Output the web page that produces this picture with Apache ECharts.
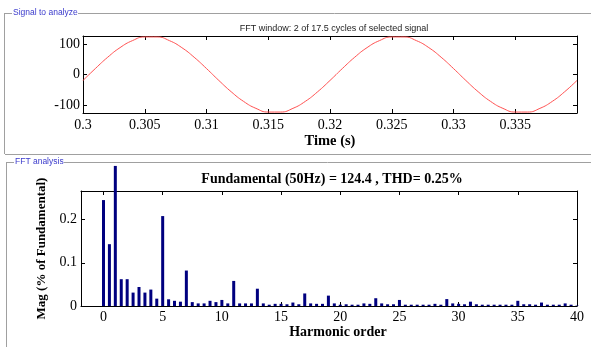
<!DOCTYPE html>
<html>
<head>
<meta charset="utf-8">
<script src="https://cdn.jsdelivr.net/npm/echarts@6/dist/echarts.min.js"></script>
<style>
  html, body { margin: 0; padding: 0; background: #fff; }
  #fft-scope { width: 591px; height: 347px; }
</style>
</head>
<body>
<div id="fft-scope"></div>
<script>
// signal window (time in s, amplitude)
const timeSamples = [
    0.300, 0.301, 0.302, 0.303, 0.304, 0.305, 0.306, 0.307, 0.308, 0.309,
    0.310, 0.311, 0.312, 0.313, 0.314, 0.315, 0.316, 0.317, 0.318, 0.319,
    0.320, 0.321, 0.322, 0.323, 0.324, 0.325, 0.326, 0.327, 0.328, 0.329,
    0.330, 0.331, 0.332, 0.333, 0.334, 0.335, 0.336, 0.337, 0.338, 0.339, 0.340,
];
const signalValues = [
    -19.5, 19.5, 56.5, 88.0, 110.8, 122.9, 122.9, 110.8, 88.0, 56.5,
    19.5, -19.5, -56.5, -88.0, -110.8, -122.9, -122.9, -110.8, -88.0, -56.5,
    -19.5, 19.5, 56.5, 88.0, 110.8, 122.9, 122.9, 110.8, 88.0, 56.5,
    19.5, -19.5, -56.5, -88.0, -110.8, -122.9, -122.9, -110.8, -88.0, -56.5, -19.5,
];

// spectrum (harmonic order, % of fundamental)
const harmonicOrders = [
    0, 0.5, 1, 1.5, 2, 2.5, 3, 3.5, 4, 4.5, 5, 5.5, 6, 6.5, 7, 7.5, 8, 8.5, 9, 9.5,
    10, 10.5, 11, 11.5, 12, 12.5, 13, 13.5, 14, 14.5, 15, 15.5, 16, 16.5, 17, 17.5, 18, 18.5, 19, 19.5,
    20, 20.5, 21, 21.5, 22, 22.5, 23, 23.5, 24, 24.5, 25, 25.5, 26, 26.5, 27, 27.5, 28, 28.5, 29, 29.5,
    30, 30.5, 31, 31.5, 32, 32.5, 33, 33.5, 34, 34.5, 35, 35.5, 36, 36.5, 37, 37.5, 38, 38.5, 39, 39.5, 40,
];
const harmonicMags = [
    0.245, 0.143, 0.324, 0.062, 0.062, 0.031, 0.044, 0.031, 0.038, 0.017,
    0.208, 0.0155, 0.012, 0.010, 0.082, 0.009, 0.006, 0.006, 0.012, 0.009,
    0.014, 0.006, 0.058, 0.006, 0.006, 0.006, 0.040, 0.006, 0.003, 0.005,
    0.005, 0.004, 0.008, 0.004, 0.029, 0.006, 0.005, 0.005, 0.024, 0.006,
    0.003, 0.004, 0.003, 0.003, 0.006, 0.005, 0.018, 0.006, 0.004, 0.004,
    0.014, 0.003, 0.003, 0.003, 0.003, 0.003, 0.005, 0.003, 0.016, 0.006,
    0.005, 0.004, 0.010, 0.004, 0.003, 0.003, 0.003, 0.003, 0.003, 0.003,
    0.012, 0.004, 0.004, 0.003, 0.008, 0.003, 0.003, 0.003, 0.006, 0.003, 0.001,
];

const signalTitle = 'FFT window: 2 of 17.5 cycles of selected signal';
const fftTitle = 'Fundamental (50Hz) = 124.4 , THD= 0.25%';

const serif = 'Liberation Serif';
const tickFont = { fontFamily: serif, fontSize: 14, color: '#000' };
const boxLine = { show: true, onZero: false, lineStyle: { color: '#000', width: 1 } };
const inTick = { show: true, inside: true, length: 4, lineStyle: { color: '#000' } };

// etched group-box frame pieces
const etch = (x1, y1, x2, y2) => [
    { type: 'line', shape: { x1: x1, y1: y1, x2: x2, y2: y2 }, style: { stroke: '#a0a0a0', lineWidth: 1 } },
    { type: 'line', shape: { x1: x1 + 1, y1: y1 + 1, x2: x2 + 1, y2: y2 + 1 }, style: { stroke: '#ffffff', lineWidth: 1 } },
];

const chart = echarts.init(document.getElementById('fft-scope'), null, { renderer: 'canvas' });
chart.setOption({
    animation: false,
    backgroundColor: '#fff',
    title: [
        {
            text: signalTitle,
            left: 329, top: 19, textAlign: 'center',
            textStyle: { fontFamily: 'Liberation Sans', fontSize: 9, fontWeight: 'normal', color: '#222' },
        },
        {
            text: fftTitle,
            left: 327, top: 167, textAlign: 'center',
            textStyle: { fontFamily: serif, fontSize: 14, fontWeight: 'bold', color: '#000' },
        },
    ],
    graphic: [
        ...etch(5, 13.5, 12, 13.5),
        ...etch(78, 13.5, 591, 13.5),
        ...etch(4.5, 13, 4.5, 154),
        ...etch(5, 154.5, 591, 154.5),
        ...etch(7, 162.5, 14, 162.5),
        ...etch(64, 162.5, 591, 162.5),
        ...etch(6.5, 162, 6.5, 347),
        {
            type: 'text', left: 13, top: 8,
            style: { text: 'Signal to analyze', fill: '#3a3acc', font: '8.5px "Liberation Sans"' },
        },
        {
            type: 'text', left: 15, top: 157,
            style: { text: 'FFT analysis', fill: '#3a3acc', font: '8.5px "Liberation Sans"' },
        },
    ],
    grid: [
        { left: 83, top: 36, width: 494, height: 77, containLabel: false },
        { left: 81, top: 191, width: 496, height: 115, containLabel: false },
    ],
    xAxis: [
        {
            gridIndex: 0, type: 'value', min: 0.3, max: 0.34, interval: 0.005,
            name: 'Time (s)', nameLocation: 'middle', nameGap: 21,
            nameTextStyle: { fontFamily: serif, fontSize: 14.5, fontWeight: 'bold', color: '#000' },
            axisLine: boxLine, axisTick: inTick, splitLine: { show: false },
            axisLabel: { ...tickFont, margin: 5, showMaxLabel: false },
        },
        {
            gridIndex: 0, type: 'value', position: 'top', min: 0.3, max: 0.34, interval: 0.005,
            axisLine: boxLine, axisTick: inTick, splitLine: { show: false }, axisLabel: { show: false },
        },
        {
            gridIndex: 1, type: 'value', min: -1.9, max: 40, splitNumber: 8,
            name: 'Harmonic order', nameLocation: 'middle', nameGap: 19,
            nameTextStyle: { fontFamily: serif, fontSize: 14, fontWeight: 'bold', color: '#000', padding: [0, 0, 0, 18] },
            axisLine: boxLine, axisTick: inTick, splitLine: { show: false },
            axisLabel: { ...tickFont, margin: 4, showMinLabel: false },
        },
        {
            gridIndex: 1, type: 'value', position: 'top', min: -1.9, max: 40, splitNumber: 8,
            axisLine: boxLine, axisTick: inTick, splitLine: { show: false }, axisLabel: { show: false },
        },
    ],
    yAxis: [
        {
            gridIndex: 0, type: 'value', min: -126, max: 126, splitNumber: 2,
            axisLine: boxLine, axisTick: inTick, splitLine: { show: false },
            axisLabel: { ...tickFont, margin: 3, showMinLabel: false, showMaxLabel: false },
        },
        {
            gridIndex: 0, type: 'value', position: 'right', min: -126, max: 126, splitNumber: 2,
            axisLine: boxLine, axisTick: inTick, splitLine: { show: false }, axisLabel: { show: false },
        },
        {
            gridIndex: 1, type: 'value', min: 0, max: 0.266, interval: 0.1,
            name: 'Mag (% of Fundamental)', nameLocation: 'middle', nameGap: 27, nameRotate: 90,
            nameTextStyle: { fontFamily: serif, fontSize: 13, fontWeight: 'bold', color: '#000' },
            axisLine: boxLine, axisTick: inTick, splitLine: { show: false },
            axisLabel: { ...tickFont, margin: 4, showMaxLabel: false },
        },
        {
            gridIndex: 1, type: 'value', position: 'right', min: 0, max: 0.266, interval: 0.1,
            axisLine: boxLine, axisTick: inTick, splitLine: { show: false }, axisLabel: { show: false },
        },
    ],
    series: [
        {
            type: 'line', xAxisIndex: 0, yAxisIndex: 0,
            data: timeSamples.map((t, i) => [t, signalValues[i]]),
            smooth: true, showSymbol: false,
            lineStyle: { color: '#ff5050', width: 1 },
        },
        {
            type: 'bar', xAxisIndex: 2, yAxisIndex: 2,
            data: harmonicOrders.map((h, i) => [h, harmonicMags[i]]),
            barWidth: 3, clip: false,
            itemStyle: { color: '#00007f' },
        },
    ],
});
</script>
</body>
</html>
